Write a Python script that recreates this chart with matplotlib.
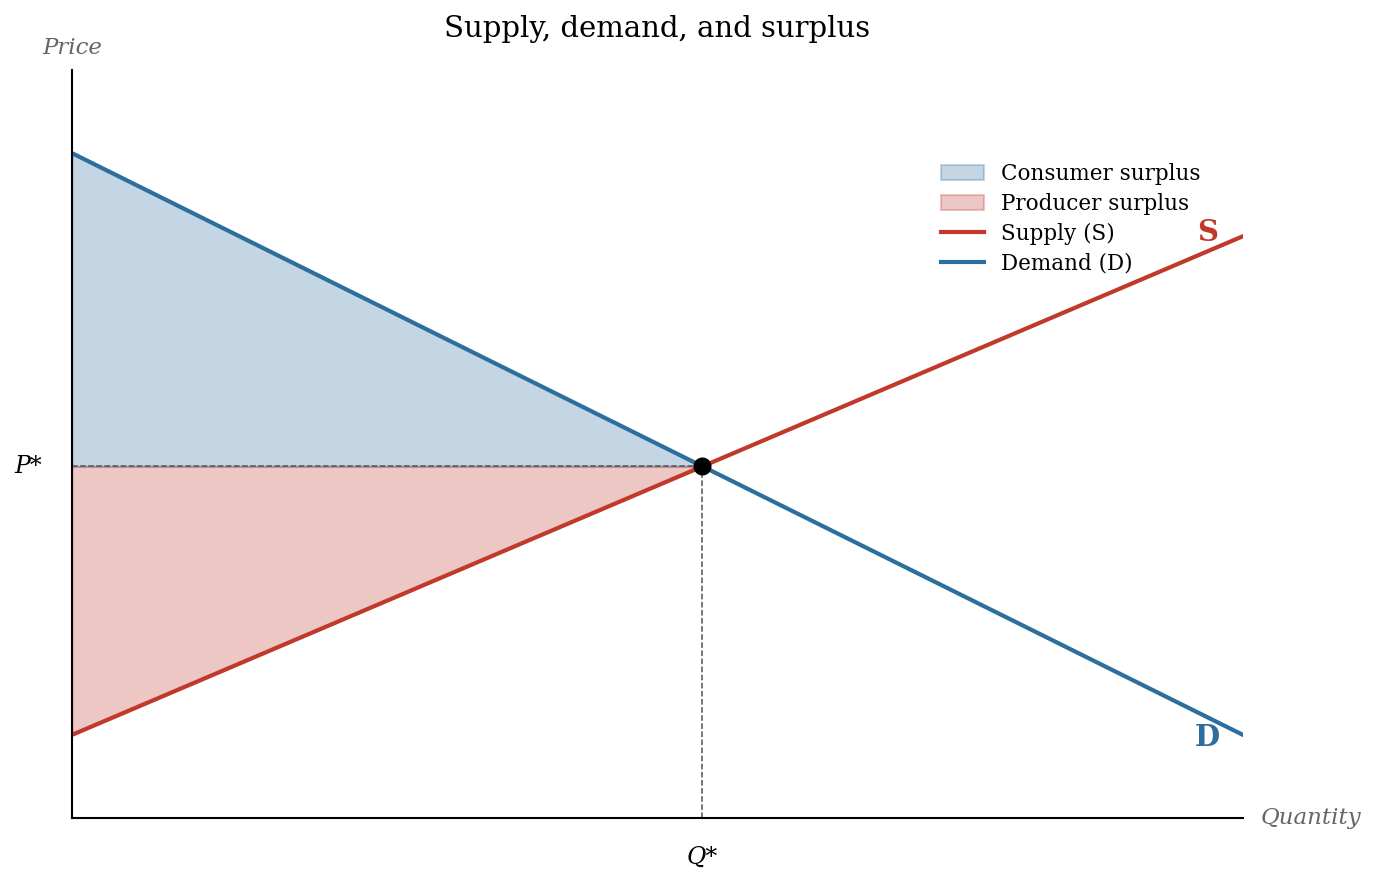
import numpy as np
import matplotlib
matplotlib.use("Agg")
from matplotlib import pyplot as plt

plt.rcParams['font.family'] = ['DejaVu Serif']

# 数据
q = np.array([0.0, 10.0])
demand_a, demand_b = 8.0, -0.7   # P = 8 - 0.7Q
supply_a, supply_b = 1.0, 0.6    # P = 1 + 0.6Q
q_star = (demand_a - supply_a) / (supply_b - demand_b)
p_star = demand_a + demand_b * q_star

red = '#c0392b'
blue = '#2c6e9e'

fig = plt.figure(figsize=(13.76, 8.85), dpi=100)
ax = fig.add_axes([0.0523, 0.0757, 0.8510, 0.8452])

# 剩余区域
qs = np.array([0.0, q_star])
ax.fill_between(qs, demand_a + demand_b * qs, p_star, color=blue, alpha=0.28,
                linewidth=1.5, edgecolor=blue, label='Consumer surplus')
ax.fill_between(qs, p_star, supply_a + supply_b * qs, color=red, alpha=0.28,
                linewidth=1.5, edgecolor=red, label='Producer surplus')

ax.plot(q, supply_a + supply_b * q, color=red, linewidth=3, label='Supply (S)')
ax.plot(q, demand_a + demand_b * q, color=blue, linewidth=3, label='Demand (D)')

# 虚线
ax.plot([0, q_star], [p_star, p_star], color='#555555', linestyle='--', linewidth=1.1)
ax.plot([q_star, q_star], [0, p_star], color='#555555', linestyle='--', linewidth=1.1)
ax.plot(q_star, p_star, 'o', color='black', markersize=12, zorder=5)

ax.set_xlim(0, 10)
ax.set_ylim(0, 9)
ax.spines['top'].set_visible(False)
ax.spines['right'].set_visible(False)
ax.spines['left'].set_linewidth(1.5)
ax.spines['bottom'].set_linewidth(1.5)
ax.set_xticks([])
ax.set_yticks([])

ax.text(q_star, -0.47, 'Q*', ha='center', va='center', fontsize=17, style='italic')
ax.text(-0.37, p_star, 'P*', ha='center', va='center', fontsize=17, style='italic')
ax.text(1.0154, 0.0, 'Quantity', transform=ax.transAxes, ha='left', va='center',
        fontsize=16.5, style='italic', color='#666666')
ax.text(0.0, 1.03, 'Price', transform=ax.transAxes, ha='center', va='center',
        fontsize=16.5, style='italic', color='#666666')

ax.text(9.7, supply_a + supply_b * 9.7 + 0.23, 'S', color=red, fontsize=21,
        fontweight='bold', ha='center', va='center')
ax.text(9.7, demand_a + demand_b * 9.7 - 0.24, 'D', color=blue, fontsize=21,
        fontweight='bold', ha='center', va='center')

ax.set_title('Supply, demand, and surplus', fontsize=21, pad=24)
ax.legend(loc='upper left', bbox_to_anchor=(0.7255, 0.901), frameon=False, fontsize=15.5,
          labelspacing=0.35)

fig.savefig('out.png', dpi=100)
